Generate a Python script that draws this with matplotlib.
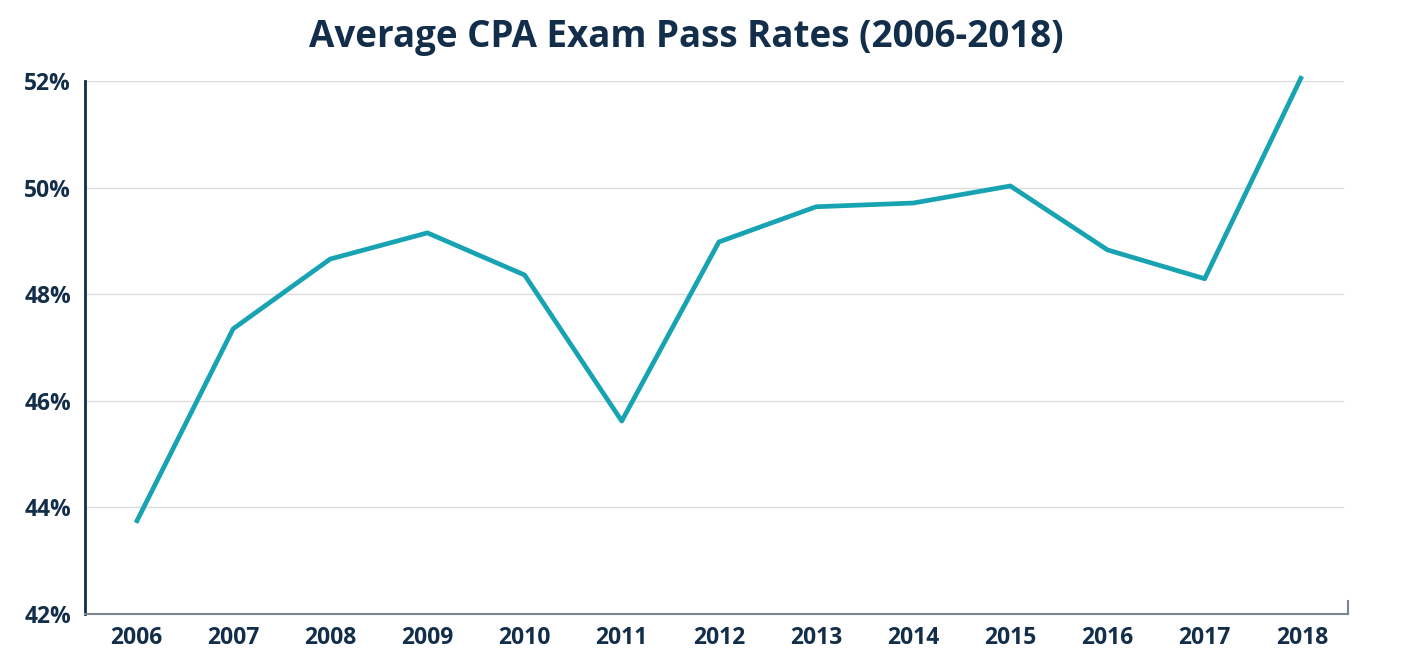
import matplotlib.pyplot as plt
from matplotlib.ticker import FuncFormatter

years = [2006, 2007, 2008, 2009, 2010, 2011, 2012, 2013, 2014, 2015, 2016, 2017, 2018]
pass_rates = [43.71, 47.35, 48.66, 49.15, 48.36, 45.62, 48.98, 49.64, 49.71, 50.03, 48.83, 48.29, 52.09]
y_ticks = [42, 44, 46, 48, 50, 52]

navy = '#132e4a'
teal = '#17a3b2'

plt.rcParams['font.family'] = ['Open Sans', 'DejaVu Sans']

fig = plt.figure(figsize=(14.09, 6.67), dpi=100)
ax = fig.add_axes([0.0603, 0.0795, 0.8964, 0.7991])

ax.plot(years, pass_rates, color=teal, linewidth=3.4, clip_on=False, zorder=3,
        solid_capstyle='butt')

ax.set_xlim(2005.475, 2018.475)
ax.set_ylim(42, 52)
ax.set_xticks(years)
ax.set_yticks(y_ticks)
ax.yaxis.set_major_formatter(FuncFormatter(lambda v, p: f'{v:.0f}%'))

for v in y_ticks[1:]:
    ax.axhline(v, color='#dddddd', linewidth=1, zorder=1, xmax=0.996)

for s in ['top', 'right']:
    ax.spines[s].set_visible(False)
ax.spines['left'].set_color(navy)
ax.spines['left'].set_linewidth(2)
ax.spines['bottom'].set_color('#7a8590')
ax.spines['bottom'].set_linewidth(1.5)
# small end tick on the right of the x axis
ax.plot([1, 1], [0, 0.025], transform=ax.transAxes, color='#7a8590',
        linewidth=1.5, clip_on=False)

ax.tick_params(axis='both', length=0, labelsize=16.5, labelcolor=navy)
ax.tick_params(axis='x', pad=9)
ax.tick_params(axis='y', pad=10)
for lbl in ax.get_xticklabels() + ax.get_yticklabels():
    lbl.set_fontweight('bold')

fig.text(0.487, 0.945, 'Average CPA Exam Pass Rates (2006-2018)', ha='center', va='center',
         fontsize=26.5, fontweight='bold', color=navy)

fig.savefig('out.png', dpi=100)
